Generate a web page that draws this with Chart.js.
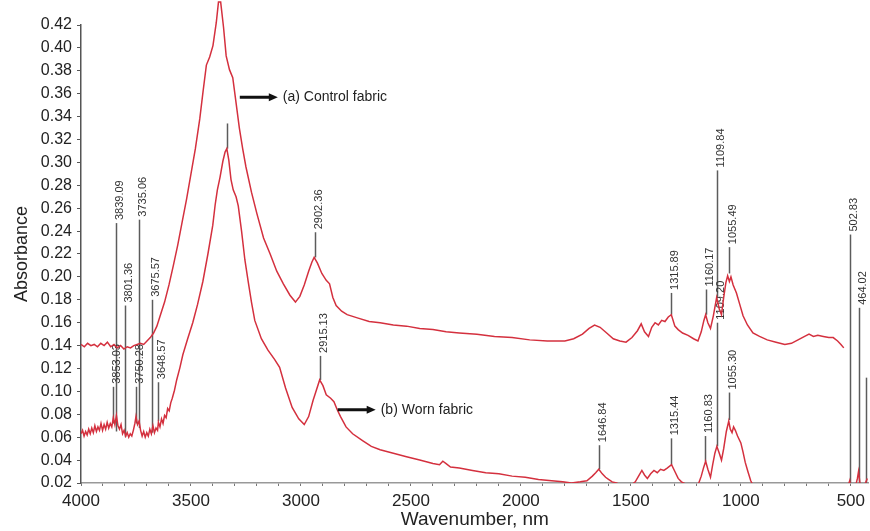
<!DOCTYPE html>
<html>
<head>
<meta charset="utf-8">
<script src="https://cdn.jsdelivr.net/npm/chart.js@4"></script>
<style>
html, body { margin: 0; padding: 0; background: #fff; }
</style>
</head>
<body>
<canvas id="ftirChart" width="870" height="531"></canvas>
<script>
// Spectrum (a) control fabric: wavenumber / absorbance
const controlWn = [4000,3985,3970,3955,3940,3925,3910,3895,3880,3865,3850,3835,3820,3805,3790,3775,3760,3745,3730,3715,3700,3685,3670,3655,3640,3620,3600,3580,3560,3540,3520,3500,3480,3460,3445,3430,3415,3400,3385,3375,3365,3352,3340,3325,3310,3295,3280,3265,3250,3225,3200,3170,3140,3110,3080,3050,3025,3005,2985,2965,2950,2940,2925,2905,2885,2870,2855,2840,2815,2790,2740,2690,2640,2580,2520,2460,2400,2340,2280,2200,2120,2040,1960,1880,1800,1760,1720,1690,1665,1640,1610,1580,1550,1522,1495,1470,1453,1438,1420,1405,1390,1375,1360,1345,1330,1316,1300,1285,1265,1240,1215,1195,1180,1168,1160,1150,1138,1125,1110,1098,1088,1078,1068,1060,1052,1045,1035,1020,1005,990,970,945,915,880,840,800,770,740,710,690,670,650,625,600,580,560,545,532];
const controlAbs = [0.141,0.139,0.142,0.140,0.141,0.139,0.142,0.140,0.143,0.139,0.141,0.138,0.140,0.137,0.139,0.138,0.140,0.141,0.142,0.141,0.144,0.147,0.151,0.157,0.166,0.178,0.193,0.210,0.228,0.248,0.268,0.290,0.312,0.338,0.362,0.385,0.392,0.402,0.422,0.440,0.440,0.418,0.393,0.381,0.374,0.352,0.330,0.312,0.296,0.274,0.255,0.234,0.220,0.205,0.194,0.184,0.178,0.183,0.193,0.205,0.213,0.217,0.212,0.203,0.197,0.194,0.182,0.175,0.170,0.167,0.164,0.161,0.160,0.158,0.157,0.155,0.154,0.152,0.151,0.150,0.148,0.147,0.145,0.144,0.144,0.146,0.150,0.155,0.158,0.156,0.151,0.146,0.144,0.143,0.147,0.153,0.159,0.152,0.148,0.156,0.160,0.158,0.162,0.161,0.165,0.167,0.157,0.154,0.151,0.149,0.146,0.144,0.152,0.162,0.167,0.160,0.155,0.166,0.182,0.172,0.167,0.182,0.195,0.201,0.196,0.200,0.193,0.186,0.176,0.166,0.158,0.151,0.148,0.145,0.143,0.141,0.142,0.145,0.148,0.150,0.148,0.149,0.148,0.147,0.147,0.144,0.141,0.138];

// Spectrum (b) worn fabric
const wornWn = [4000,3993,3986,3979,3972,3965,3958,3951,3944,3937,3930,3923,3916,3909,3902,3895,3888,3881,3874,3867,3860,3853,3846,3839,3832,3825,3818,3811,3804,3797,3790,3783,3776,3769,3762,3755,3750,3743,3736,3729,3722,3715,3708,3701,3694,3687,3680,3673,3666,3659,3652,3648,3641,3634,3627,3620,3613,3606,3599,3592,3585,3575,3565,3550,3537,3515,3492,3470,3446,3423,3401,3390,3380,3368,3355,3345,3337,3328,3318,3308,3295,3285,3270,3255,3240,3225,3210,3180,3150,3120,3097,3070,3040,3010,2985,2965,2945,2930,2915,2900,2885,2865,2850,2835,2820,2795,2765,2720,2680,2640,2580,2520,2460,2400,2370,2355,2340,2320,2280,2220,2160,2100,2040,1980,1920,1860,1810,1770,1730,1700,1675,1660,1646,1630,1615,1600,1585,1565,1545,1520,1500,1480,1465,1450,1438,1425,1410,1395,1380,1365,1350,1335,1315,1300,1285,1270,1250,1230,1210,1195,1180,1170,1160,1150,1138,1128,1118,1109,1098,1088,1078,1066,1055,1048,1040,1033,1025,1015,1000,990,980,968,955,945,930,880,800,700,600,540,515,505,500,480,470,465,458,440,425];
const wornAbs = [0.063,0.066,0.061,0.065,0.062,0.067,0.063,0.068,0.064,0.070,0.065,0.069,0.066,0.072,0.066,0.071,0.067,0.073,0.068,0.072,0.069,0.077,0.071,0.079,0.070,0.067,0.071,0.063,0.066,0.061,0.064,0.060,0.063,0.061,0.066,0.072,0.078,0.071,0.074,0.066,0.061,0.065,0.060,0.064,0.061,0.067,0.063,0.070,0.064,0.068,0.066,0.073,0.069,0.076,0.072,0.079,0.077,0.085,0.083,0.090,0.094,0.101,0.110,0.121,0.132,0.146,0.160,0.176,0.196,0.220,0.245,0.263,0.276,0.287,0.301,0.309,0.312,0.302,0.285,0.276,0.270,0.262,0.240,0.215,0.196,0.178,0.162,0.146,0.136,0.128,0.121,0.103,0.086,0.076,0.071,0.078,0.092,0.101,0.110,0.105,0.097,0.094,0.091,0.084,0.078,0.069,0.063,0.057,0.052,0.049,0.046,0.043,0.040,0.037,0.036,0.039,0.037,0.034,0.033,0.031,0.029,0.028,0.026,0.025,0.023,0.022,0.021,0.020,0.021,0.022,0.026,0.029,0.032,0.028,0.025,0.023,0.021,0.020,0.018,0.017,0.018,0.021,0.026,0.031,0.027,0.024,0.028,0.031,0.029,0.032,0.031,0.033,0.036,0.030,0.024,0.021,0.019,0.016,0.015,0.018,0.026,0.033,0.039,0.032,0.025,0.036,0.046,0.052,0.046,0.040,0.050,0.065,0.074,0.067,0.064,0.069,0.066,0.061,0.055,0.047,0.038,0.030,0.022,0.018,0.015,0.014,0.014,0.014,0.015,0.015,0.016,0.022,0.016,0.016,0.024,0.030,0.019,0.017,0.024];

// Axis ticks
const xTicks = [4000, 3500, 3000, 2500, 2000, 1500, 1000, 500];
const yTicks = [0.02,0.04,0.06,0.08,0.10,0.12,0.14,0.16,0.18,0.20,0.22,0.24,0.26,0.28,0.30,0.32,0.34,0.36,0.38,0.40,0.42];

// Peak markers: wavenumber, line from / to (absorbance), label
const markerWn    = [3839.09,3801.36,3735.06,3675.57,2938,1315.89,1160.17,1109.84,1055.49,3853.03,3750.28,3648.57,3337,2915.13,1646.84,1315.44,1160.83,1109.20,1055.30,502.83,464.02,433];
const markerFrom  = [0.065,0.060,0.068,0.064,0.217,0.167,0.167,0.182,0.203,0.072,0.072,0.074,0.312,0.110,0.032,0.036,0.039,0.052,0.075,0.020,0.020,0.020];
const markerTo    = [0.247,0.175,0.250,0.180,0.239,0.186,0.189,0.293,0.226,0.104,0.104,0.108,0.334,0.131,0.053,0.059,0.061,0.160,0.099,0.237,0.173,0.112];
const markerLabel = ['3839.09','3801.36','3735.06','3675.57','2902.36','1315.89','1160.17','1109.84','1055.49','3853.03','3750.28','3648.57','','2915.13','1646.84','1315.44','1160.83','1109.20','1055.30','502.83','464.02',''];

// Arrow notes
const noteText = ['(a) Control fabric', '(b) Worn fabric'];
const noteWn   = [3278, 2833];
const noteAbs  = [0.357, 0.084];

const curveColor = '#d4303e';

const peakMarkers = {
    id: 'peakMarkers',
    beforeDatasetsDraw(chart) {
        const {ctx, scales: {x, y}} = chart;
        ctx.save();
        ctx.strokeStyle = '#5c5c5c';
        ctx.lineWidth = 1.5;
        ctx.fillStyle = '#333';
        ctx.font = '11px "Liberation Sans", Arial, sans-serif';
        markerWn.forEach((wn, i) => {
            const px = Math.round(x.getPixelForValue(wn)) + 0.5;
            const top = y.getPixelForValue(markerTo[i]);
            const bottom = y.getPixelForValue(markerFrom[i]);
            ctx.beginPath();
            ctx.moveTo(px, bottom);
            ctx.lineTo(px, top);
            ctx.stroke();
            if (markerLabel[i]) {
                ctx.save();
                ctx.translate(px + 3, top - 3);
                ctx.rotate(-Math.PI / 2);
                ctx.textAlign = 'left';
                ctx.textBaseline = 'middle';
                ctx.fillText(markerLabel[i], 0, 0);
                ctx.restore();
            }
        });
        ctx.restore();
    },
    afterDatasetsDraw(chart) {
        const {ctx, scales: {x, y}} = chart;
        ctx.save();
        noteText.forEach((txt, i) => {
            const x1 = x.getPixelForValue(noteWn[i]);
            const yy = y.getPixelForValue(noteAbs[i]);
            const x2 = x1 + 38;
            ctx.strokeStyle = '#111';
            ctx.fillStyle = '#111';
            ctx.lineWidth = 3;
            ctx.beginPath();
            ctx.moveTo(x1, yy);
            ctx.lineTo(x2 - 6, yy);
            ctx.stroke();
            ctx.beginPath();
            ctx.moveTo(x2, yy);
            ctx.lineTo(x2 - 9, yy - 4);
            ctx.lineTo(x2 - 9, yy + 4);
            ctx.closePath();
            ctx.fill();
            ctx.font = '14px "Liberation Sans", Arial, sans-serif';
            ctx.fillStyle = '#222';
            ctx.textAlign = 'left';
            ctx.textBaseline = 'middle';
            ctx.fillText(txt, x2 + 5, yy);
        });
        ctx.restore();
    }
};

Chart.defaults.font.family = '"Liberation Sans", Arial, sans-serif';
Chart.defaults.color = '#222';

new Chart(document.getElementById('ftirChart'), {
    type: 'line',
    data: {
        datasets: [
            {
                label: '(a) Control fabric',
                data: controlWn.map((w, i) => ({x: w, y: controlAbs[i]})),
                borderColor: curveColor,
                borderWidth: 1.5,
                pointRadius: 0,
                tension: 0,
                fill: false,
                clip: {left: 0, top: false, right: 0, bottom: 0}
            },
            {
                label: '(b) Worn fabric',
                data: wornWn.map((w, i) => ({x: w, y: wornAbs[i]})),
                borderColor: curveColor,
                borderWidth: 1.5,
                pointRadius: 0,
                tension: 0,
                fill: false,
                clip: {left: 0, top: false, right: 0, bottom: 0}
            }
        ]
    },
    options: {
        responsive: false,
        animation: false,
        layout: {
            padding: {top: 25, right: 0, bottom: 0, left: 0}
        },
        plugins: {
            legend: {display: false},
            tooltip: {enabled: false}
        },
        scales: {
            x: {
                type: 'linear',
                reverse: true,
                min: 419,
                max: 4000,
                afterBuildTicks: scale => {
                    const ticks = [];
                    for (let v = xTicks[0]; v >= xTicks[xTicks.length - 1]; v -= 100) ticks.push({value: v});
                    scale.ticks = ticks;
                },
                afterFit: scale => { scale.height = 48; },
                ticks: {
                    autoSkip: false,
                    maxRotation: 0,
                    padding: 5,
                    font: {size: 17},
                    callback: v => xTicks.includes(v) ? v : ''
                },
                grid: {
                    drawOnChartArea: false,
                    drawTicks: true,
                    tickLength: 3,
                    color: '#777'
                },
                border: {color: '#999', width: 1.5},
                title: {
                    display: true,
                    text: 'Wavenumber, nm',
                    font: {size: 19},
                    padding: 0
                }
            },
            y: {
                min: 0.02,
                max: 0.42,
                afterBuildTicks: scale => { scale.ticks = yTicks.map(v => ({value: v})); },
                afterFit: scale => { scale.width = 81; },
                ticks: {
                    padding: 5,
                    font: {size: 16},
                    callback: v => v.toFixed(2)
                },
                grid: {
                    drawOnChartArea: false,
                    drawTicks: true,
                    tickLength: 4,
                    color: '#555'
                },
                border: {color: '#555', width: 1.5, dash: [1, 2]},
                title: {
                    display: true,
                    text: 'Absorbance',
                    font: {size: 18},
                    padding: {top: 11, bottom: 0}
                }
            }
        }
    },
    plugins: [peakMarkers]
});
</script>
</body>
</html>
